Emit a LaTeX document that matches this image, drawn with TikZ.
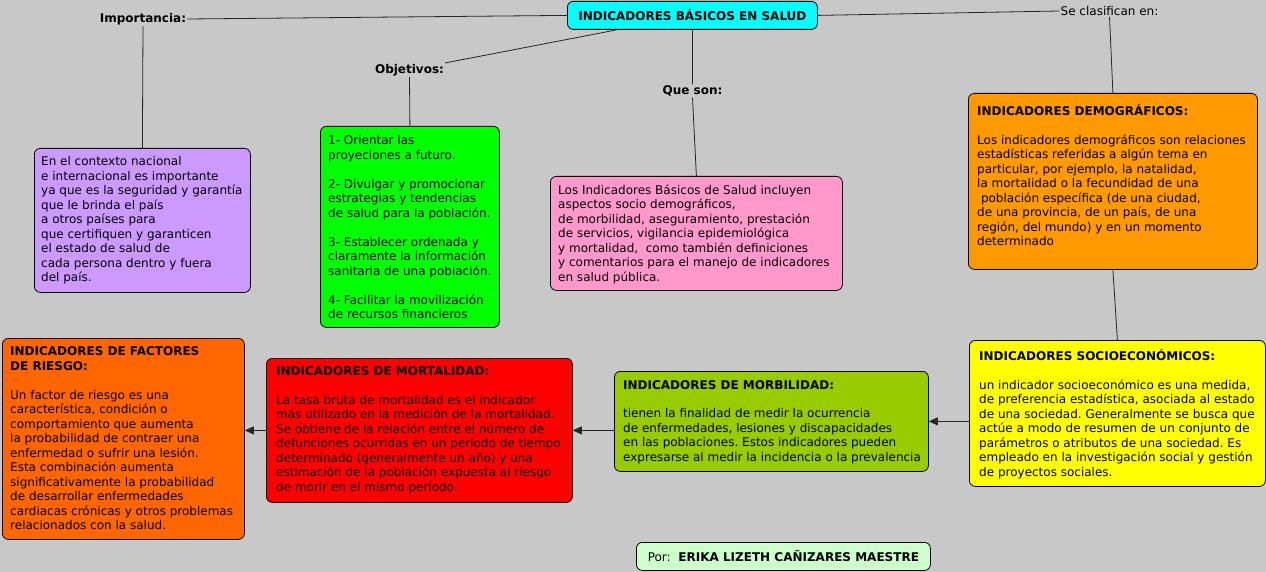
\documentclass[tikz,border=0pt]{standalone}
\usepackage{fontspec}
\setmainfont{DejaVu Sans}
\usetikzlibrary{arrows.meta}
\definecolor{bg}{RGB}{200,200,200}
\definecolor{ccyan}{RGB}{0,255,255}
\definecolor{cpurple}{RGB}{204,153,255}
\definecolor{cgreen}{RGB}{0,255,0}
\definecolor{cpink}{RGB}{255,153,204}
\definecolor{corange}{RGB}{255,153,0}
\definecolor{cyellow}{RGB}{255,255,0}
\definecolor{cmorb}{RGB}{153,204,0}
\definecolor{cred}{RGB}{255,0,0}
\definecolor{criesgo}{RGB}{255,102,0}
\definecolor{cauthor}{RGB}{204,255,204}
\newcommand\fs{\fontsize{12}{14.5}\selectfont}
\newcommand\mytop{\rule{0pt}{10pt}}
\frenchspacing
\begin{document}
\begin{tikzpicture}[x=1pt,y=-1pt,
  box/.style={draw=black, line width=0.8pt, rounded corners=6pt, inner sep=0pt, anchor=north west},
  txt/.style={anchor=north west, align=left, inner sep=0pt, font=\fs},
  lbl/.style={inner sep=1pt, font=\fs\bfseries},
  conn/.style={draw=black!85, line width=0.8pt},
  arr/.style={conn, -{Triangle[length=9pt,width=8pt]}}]
\useasboundingbox[fill=bg] (0,0) rectangle (1266,572);

% boxes
\node[box, fill=ccyan, minimum width=250pt, minimum height=28pt, font=\fs\bfseries] (title) at (567,1) {INDICADORES BÁSICOS EN SALUD};
\node[box, fill=cpurple, minimum width=216pt, minimum height=144pt] (imp) at (34,148) {};
\node[box, fill=cgreen, minimum width=179pt, minimum height=201pt] (obj) at (320,126) {};
\node[box, fill=cpink, minimum width=292pt, minimum height=114pt] (que) at (550,176) {};
\node[box, fill=corange, minimum width=289pt, minimum height=176pt] (dem) at (968,93) {};
\node[box, fill=cyellow, minimum width=296pt, minimum height=146pt] (soc) at (969,340) {};
\node[box, fill=cmorb, minimum width=314pt, minimum height=100pt] (morb) at (614,371) {};
\node[box, fill=cred, minimum width=306pt, minimum height=144pt] (mort) at (266,358) {};
\node[box, fill=criesgo, minimum width=242pt, minimum height=201pt] (ries) at (2,338) {};
\node[box, fill=cauthor, minimum width=294pt, minimum height=28pt, font=\fs] (auth) at (636,542) {Por:\ \ \textbf{ERIKA LIZETH CAÑIZARES MAESTRE}};

% texts
\node[txt] (imptxt) at ([shift={(7,7.5)}]imp.north west) {\mytop En el contexto nacional\\
e internacional es importante\\
ya que es la seguridad y garantía\\
que le brinda el país\\
a otros países para\\
que certifiquen y garanticen\\
el estado de salud de\\
cada persona dentro y fuera\\
del país.};

\node[txt] (objtxt) at ([shift={(8,8.5)}]obj.north west) {\mytop 1- Orientar las\\
proyeciones a futuro.\\[14.5pt]
2- Divulgar y promocionar\\
estrategias y tendencias\\
de salud para la población.\\[14.5pt]
3- Establecer ordenada y\\
claramente la información\\
sanitaria de una población.\\[14.5pt]
4- Facilitar la movilización\\
de recursos financieros};

\node[txt] (quetxt) at ([shift={(8,7.8)}]que.north west) {\mytop Los Indicadores Básicos de Salud incluyen\\
aspectos socio demográficos,\\
de morbilidad, aseguramiento, prestación\\
de servicios, vigilancia epidemiológica\\
y mortalidad,\ \ como también definiciones\\
y comentarios para el manejo de indicadores\\
en salud pública.};

\node[txt] (demtxt) at ([shift={(9,11)}]dem.north west) {\mytop\textbf{INDICADORES DEMOGRÁFICOS:}\\[14.5pt]
Los indicadores demográficos son relaciones\\
estadísticas referidas a algún tema en\\
particular, por ejemplo, la natalidad,\\
la mortalidad o la fecundidad de una\\
\ población específica (de una ciudad,\\
de una provincia, de un país, de una\\
región, del mundo) y en un momento\\
determinado};

\node[txt] (soctxt) at ([shift={(10,9)}]soc.north west) {\mytop\textbf{INDICADORES SOCIOECONÓMICOS:}\\[14.5pt]
un indicador socioeconómico es una medida,\\
de preferencia estadística, asociada al estado\\
de una sociedad. Generalmente se busca que\\
actúe a modo de resumen de un conjunto de\\
parámetros o atributos de una sociedad. Es\\
empleado en la investigación social y gestión\\
de proyectos sociales.};

\node[txt] (morbtxt) at ([shift={(9,8)}]morb.north west) {\mytop\textbf{INDICADORES DE MORBILIDAD:}\\[14pt]
tienen la finalidad de medir la ocurrencia\\
de enfermedades, lesiones y discapacidades\\
en las poblaciones. Estos indicadores pueden\\
expresarse al medir la incidencia o la prevalencia};

\node[txt] (morttxt) at ([shift={(10,7)}]mort.north west) {\mytop\textbf{INDICADORES DE MORTALIDAD:}\\[14.5pt]
La tasa bruta de mortalidad es el indicador\\
más utilizado en la medición de la mortalidad.\\
Se obtiene de la relación entre el número de\\
defunciones ocurridas en un período de tiempo\\
determinado (generalmente un año) y una\\
estimación de la población expuesta al riesgo\\
de morir en el mismo período.};

\node[txt] (riestxt) at ([shift={(8,7.5)}]ries.north west) {\mytop\textbf{INDICADORES DE FACTORES}\\
\textbf{DE RIESGO:}\\[14.5pt]
Un factor de riesgo es una\\
característica, condición o\\
comportamiento que aumenta\\
la probabilidad de contraer una\\
enfermedad o sufrir una lesión.\\
Esta combinación aumenta\\
significativamente la probabilidad\\
de desarrollar enfermedades\\
cardiacas crónicas y otros problemas\\
relacionados con la salud.};

% labels
\node[lbl] (implbl) at (143,19) {Importancia:};
\node[lbl] (objlbl) at (409.5,70) {Objetivos:};
\node[lbl] (quelbl) at (692.5,91) {Que son:};
\node[lbl, font=\fs] (seclbl) at (1109.5,11) {Se clasifican en:};

% connectors
\draw[conn] (implbl.east) -- (title.west);
\draw[conn] (implbl.south) -- (imp.north);
\draw[conn] (objlbl.north east) -- ([xshift=50pt]title.south west);
\draw[conn] (objlbl.south) -- (obj.north);
\draw[conn] (title.south) -- (quelbl.north);
\draw[conn] (quelbl.south) -- (que.north);
\draw[conn] (title.east) -- (seclbl.west);
\draw[conn] (seclbl.south) -- (dem.north);
\draw[conn] (dem.south) -- (soc.north);
\draw[arr] (soc.west |- morb.east) -- (morb.east);
\draw[arr] (morb.west |- mort.east) -- (mort.east);
\draw[arr] (mort.west) -- (mort.west -| ries.east);
\end{tikzpicture}
\end{document}
